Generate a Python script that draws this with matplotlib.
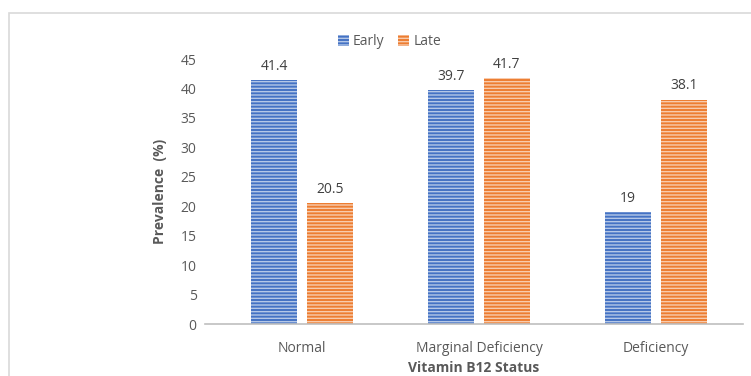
import matplotlib.pyplot as plt
import matplotlib.patches as mpatches
import numpy as np

plt.rcParams['font.family'] = ['Open Sans', 'DejaVu Sans']
plt.rcParams['hatch.linewidth'] = 1.0

categories = ['Normal', 'Marginal Deficiency', 'Deficiency']
early = [41.4, 39.7, 19]
late = [20.5, 41.7, 38.1]
labels_early = ['41.4', '39.7', '19']
labels_late = ['20.5', '41.7', '38.1']

grey = '#595959'
fig = plt.figure(figsize=(7.51, 3.76), dpi=100)
ax = fig.add_axes([0.273, 0.138, 0.716, 0.705])

x = np.arange(len(categories))
w = 0.26
gap = 0.028
b1 = ax.bar(x - w / 2 - gap, early, w, color='#4472C4', edgecolor='#b4c7e7',
            hatch='-----', linewidth=0, label='Early')
b2 = ax.bar(x + w / 2 + gap, late, w, color='#ED7D31', edgecolor='#f8cbad',
            hatch='-----', linewidth=0, label='Late')

for bars, labs in ((b1, labels_early), (b2, labels_late)):
    for r, t in zip(bars, labs):
        ax.text(r.get_x() + r.get_width() / 2, r.get_height() + 1.1, t,
                ha='center', va='bottom', fontsize=10, color='#404040')

ax.set_ylim(0, 45)
ax.set_xlim(-0.548, 2.49)
ax.set_yticks(range(0, 46, 5))
ax.set_xticks(x)
ax.set_xticklabels(categories)
ax.tick_params(axis='y', length=0, labelsize=10, colors=grey, pad=6)
ax.tick_params(axis='x', length=0, labelsize=10, colors=grey, pad=12)
for s in ['top', 'right', 'left']:
    ax.spines[s].set_visible(False)
ax.spines['bottom'].set_color('#bfbfbf')
ax.spines['bottom'].set_linewidth(1.2)

ax.set_xlabel('Vitamin B12 Status', fontsize=10, fontweight='bold', color=grey, labelpad=4)
ax.set_ylabel('Prevalence  (%)', fontsize=10, fontweight='bold', color=grey, labelpad=10)

ax.legend(loc='lower center', bbox_to_anchor=(0.343, 1.0), ncol=2, frameon=False,
          fontsize=10, labelcolor=grey, handlelength=0.8, handleheight=0.8,
          handletextpad=0.3, columnspacing=1.0, borderaxespad=0.3)

fig.patches.append(mpatches.Rectangle((9 / 751, -0.2), 1.2, 1.2 - 13 / 376,
                                      transform=fig.transFigure, fill=False,
                                      edgecolor='#d9d9d9', linewidth=1.2))

fig.savefig('out.png', dpi=100)
